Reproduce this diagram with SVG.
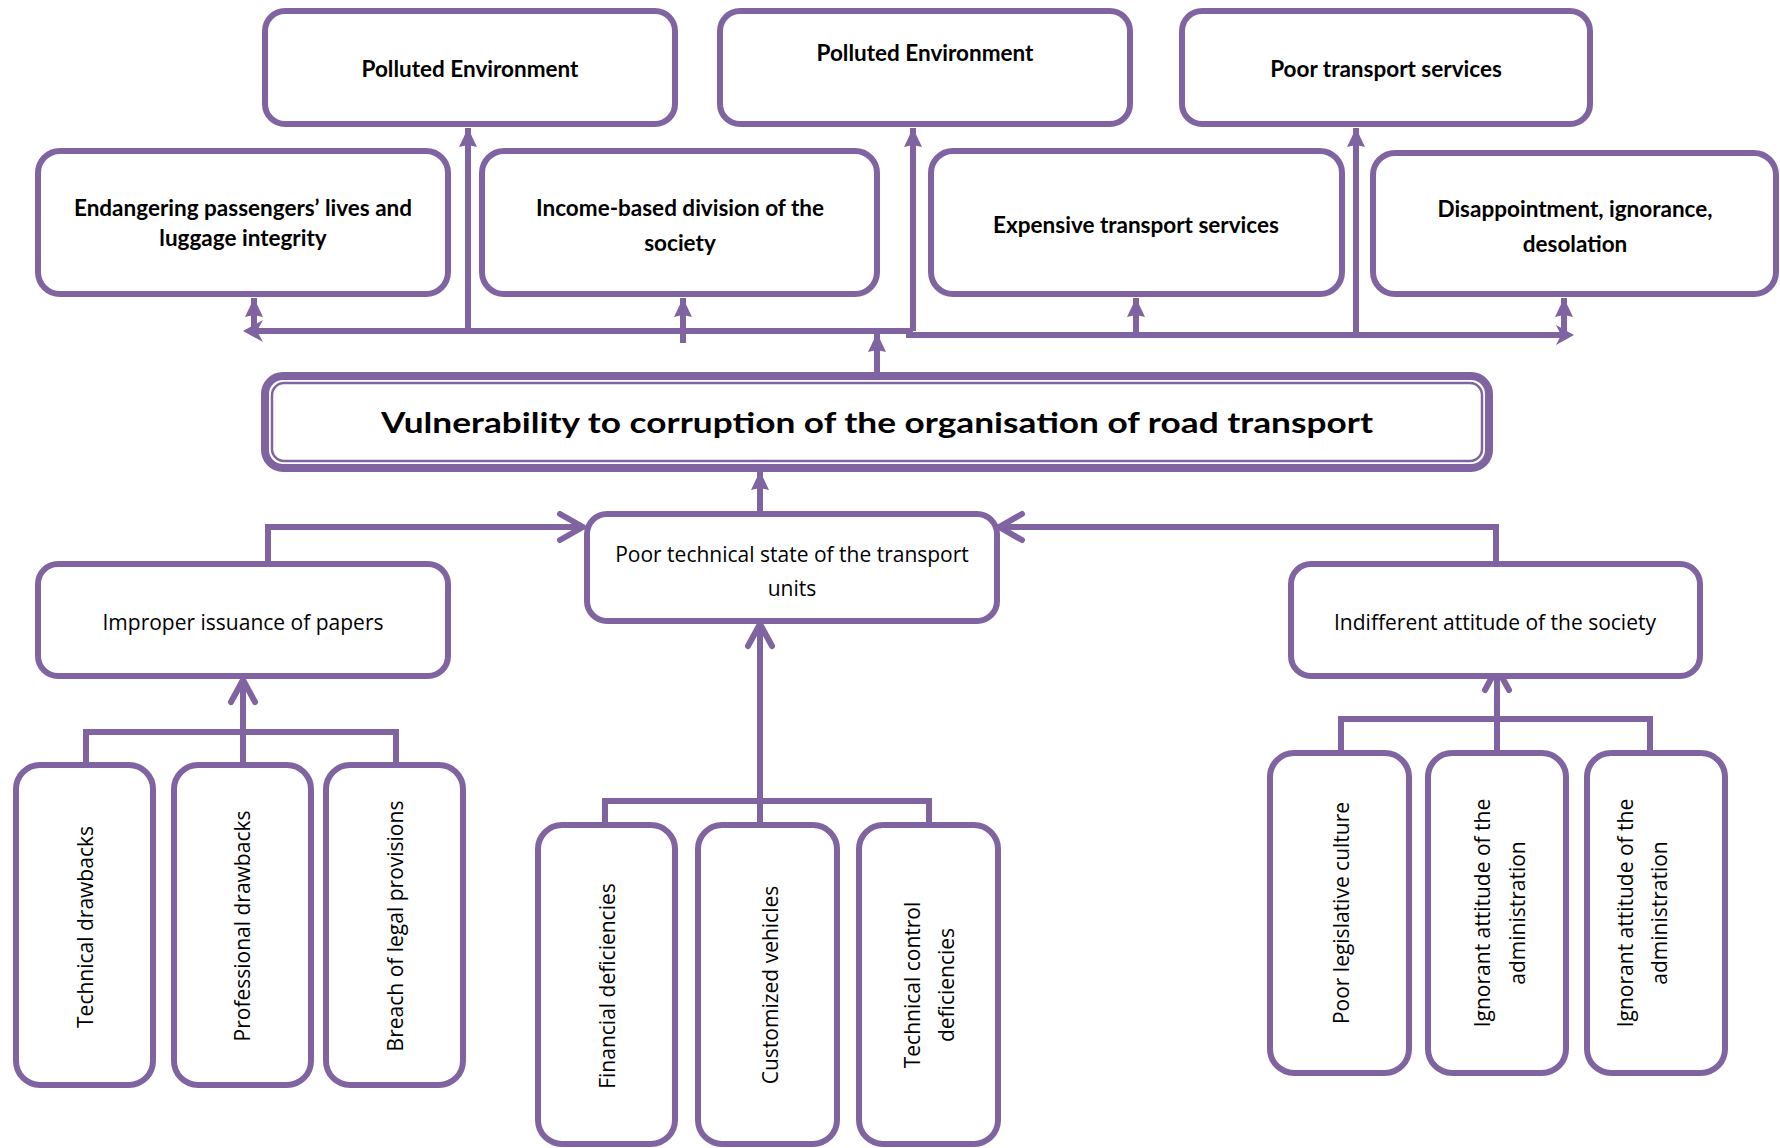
<svg xmlns="http://www.w3.org/2000/svg" width="1780" height="1148" viewBox="0 0 1780 1148">
  <style>
    .box { fill: #ffffff; stroke: #8064A2; stroke-width: 6; }
    .ln { fill: none; stroke: #8064A2; stroke-width: 6; }
    .chev { fill: none; stroke: #8064A2; stroke-width: 6; stroke-linecap: round; stroke-linejoin: round; }
    .hd { fill: #8064A2; }
    .tb { font-family: Lato, "Liberation Sans", sans-serif; font-weight: bold; font-size: 22.5px; fill: #000; text-anchor: middle; }
    .tt { font-family: Lato, "Liberation Sans", sans-serif; font-weight: bold; font-size: 29px; fill: #000; text-anchor: middle; }
    .tr { font-family: "Open Sans", "Liberation Sans", sans-serif; font-size: 21px; fill: #000; text-anchor: middle; }
  </style>
  <defs>
    <marker id="tri" viewBox="0 0 19 18" refX="19" refY="9" markerWidth="19" markerHeight="18" orient="auto" markerUnits="userSpaceOnUse">
      <path d="M0,0 L19,9 L0,18 L2,9 z" class="hd"/>
    </marker>
  </defs>

  <rect width="1780" height="1148" fill="#ffffff"/>

  <!-- connectors -->
  <g id="connectors">
    <!-- upper distribution bars -->
    <path class="ln" d="M913,331 H252"/>
    <path class="hd" d="M243,331 L263,320 L257,331 L263,342 z"/>
    <path class="ln" d="M906,335 H1565"/>
    <path class="hd" d="M1574,335 L1556,325 L1561,335 L1556,345 z"/>
    <path class="ln" d="M913,331 V128" marker-end="url(#tri)"/>
    <path class="ln" d="M468,331 V128" marker-end="url(#tri)"/>
    <path class="ln" d="M254,331 V298" marker-end="url(#tri)"/>
    <path class="ln" d="M683,343 V298" marker-end="url(#tri)"/>
    <path class="ln" d="M1136,335 V298" marker-end="url(#tri)"/>
    <path class="ln" d="M1356,335 V128" marker-end="url(#tri)"/>
    <path class="ln" d="M1564,335 V298" marker-end="url(#tri)"/>
    <path class="ln" d="M877,372 V333" marker-end="url(#tri)"/>
    <!-- central cause to main problem -->
    <path class="ln" d="M760,512 V471" marker-end="url(#tri)"/>
    <!-- side causes to central cause -->
    <path class="ln" d="M268,564 V527 H582"/>
    <path class="chev" d="M560,514 L583,527 L560,540"/>
    <path class="ln" d="M1496,564 V527 H1001"/>
    <path class="chev" d="M1022,514 L999,527 L1022,540"/>
    <!-- left sub-causes -->
    <path class="ln" d="M86,765 V732 H396 V765"/>
    <path class="ln" d="M243,765 V682"/>
    <path class="chev" d="M231,702 L243,680 L255,702"/>
    <!-- middle sub-causes -->
    <path class="ln" d="M605,825 V801 H929 V825"/>
    <path class="ln" d="M760,825 V626"/>
    <path class="chev" d="M748,646 L760,624 L772,646"/>
    <!-- right sub-causes -->
    <path class="ln" d="M1341,753 V719 H1650 V753"/>
    <path class="ln" d="M1497,753 V670"/>
    <path class="chev" d="M1485,690 L1497,668 L1509,690"/>
  </g>

  <!-- effects, upper row -->
  <g id="pollutedEnv1">
    <rect class="box" x="265" y="11" width="410" height="113" rx="20"/>
    <text class="tb" x="470" y="77">Polluted Environment</text>
  </g>
  <g id="pollutedEnv2">
    <rect class="box" x="720" y="11" width="410" height="113" rx="20"/>
    <text class="tb" x="925" y="61">Polluted Environment</text>
  </g>
  <g id="poorServices">
    <rect class="box" x="1182" y="11" width="408" height="113" rx="20"/>
    <text class="tb" x="1386" y="77">Poor transport services</text>
  </g>

  <!-- effects, lower row -->
  <g id="endangering">
    <rect class="box" x="38" y="151" width="410" height="143" rx="22"/>
    <text class="tb" x="243" y="216">Endangering passengers’ lives and</text>
    <text class="tb" x="243" y="246">luggage integrity</text>
  </g>
  <g id="incomeDivision">
    <rect class="box" x="482" y="151" width="395" height="143" rx="22"/>
    <text class="tb" x="680" y="216">Income-based division of the</text>
    <text class="tb" x="680" y="251">society</text>
  </g>
  <g id="expensiveServices">
    <rect class="box" x="931" y="151" width="411" height="143" rx="22"/>
    <text class="tb" x="1136" y="233">Expensive transport services</text>
  </g>
  <g id="disappointment">
    <rect class="box" x="1373" y="153" width="403" height="141" rx="22"/>
    <text class="tb" x="1575" y="217">Disappointment, ignorance,</text>
    <text class="tb" x="1575" y="252">desolation</text>
  </g>

  <!-- main problem -->
  <g id="mainProblem">
    <rect x="265" y="376" width="1224" height="92" rx="18" fill="#ffffff" stroke="#8064A2" stroke-width="8"/>
    <rect x="272" y="383" width="1210" height="78" rx="12" fill="none" stroke="#8064A2" stroke-width="2.5"/>
    <text class="tt" x="877" y="433" textLength="992" lengthAdjust="spacingAndGlyphs">Vulnerability to corruption of the organisation of road transport</text>
  </g>

  <!-- causes -->
  <g id="improperPapers">
    <rect class="box" x="38" y="564" width="410" height="112" rx="20"/>
    <text class="tr" x="243" y="630">Improper issuance of papers</text>
  </g>
  <g id="poorTechState">
    <rect class="box" x="587" y="514" width="410" height="107" rx="20"/>
    <text class="tr" x="792" y="562">Poor technical state of the transport</text>
    <text class="tr" x="792" y="596">units</text>
  </g>
  <g id="indifferentSociety">
    <rect class="box" x="1291" y="564" width="409" height="112" rx="20"/>
    <text class="tr" x="1495" y="630">Indifferent attitude of the society</text>
  </g>

  <!-- sub-causes, left -->
  <g id="technicalDrawbacks">
    <rect class="box" x="16" y="765" width="137" height="320" rx="24"/>
    <text class="tr" transform="translate(93,927) rotate(-90)">Technical drawbacks</text>
  </g>
  <g id="professionalDrawbacks">
    <rect class="box" x="174" y="765" width="137" height="320" rx="24"/>
    <text class="tr" transform="translate(250,926) rotate(-90)">Professional drawbacks</text>
  </g>
  <g id="legalBreach">
    <rect class="box" x="326" y="765" width="137" height="320" rx="24"/>
    <text class="tr" transform="translate(403,926) rotate(-90)">Breach of legal provisions</text>
  </g>

  <!-- sub-causes, middle -->
  <g id="financialDeficiencies">
    <rect class="box" x="538" y="825" width="137" height="319" rx="24"/>
    <text class="tr" transform="translate(615,986) rotate(-90)">Financial deficiencies</text>
  </g>
  <g id="customizedVehicles">
    <rect class="box" x="698" y="825" width="139" height="319" rx="24"/>
    <text class="tr" transform="translate(778,985) rotate(-90)">Customized vehicles</text>
  </g>
  <g id="technicalControl">
    <rect class="box" x="859" y="825" width="139" height="319" rx="24"/>
    <text class="tr" transform="translate(920,985) rotate(-90)">Technical control</text>
    <text class="tr" transform="translate(954,985) rotate(-90)">deficiencies</text>
  </g>

  <!-- sub-causes, right -->
  <g id="legislativeCulture">
    <rect class="box" x="1270" y="753" width="139" height="320" rx="24"/>
    <text class="tr" transform="translate(1349,913) rotate(-90)">Poor legislative culture</text>
  </g>
  <g id="ignorantAdmin1">
    <rect class="box" x="1428" y="753" width="138" height="320" rx="24"/>
    <text class="tr" transform="translate(1490,913) rotate(-90)">Ignorant attitude of the</text>
    <text class="tr" transform="translate(1525,913) rotate(-90)">administration</text>
  </g>
  <g id="ignorantAdmin2">
    <rect class="box" x="1587" y="753" width="138" height="320" rx="24"/>
    <text class="tr" transform="translate(1633,913) rotate(-90)">Ignorant attitude of the</text>
    <text class="tr" transform="translate(1667,913) rotate(-90)">administration</text>
  </g>
</svg>
